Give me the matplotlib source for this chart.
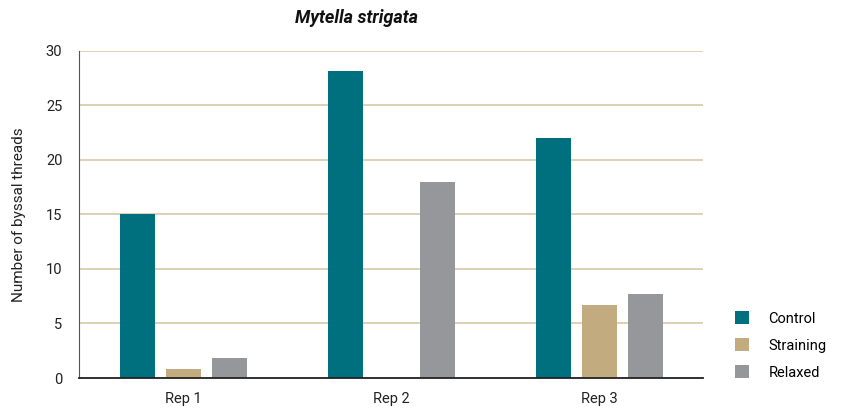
import numpy as np
import matplotlib.pyplot as plt

plt.rcParams['font.family'] = ['Roboto', 'DejaVu Sans']

reps = ['Rep 1', 'Rep 2', 'Rep 3']
control = [15.0, 28.2, 22.0]
straining = [0.8, 0.0, 6.7]
relaxed = [1.8, 18.0, 7.7]

series = [('Control', control, '#00707f'),
          ('Straining', straining, '#c2ab7e'),
          ('Relaxed', relaxed, '#96979b')]

fig = plt.figure(figsize=(8.45, 4.17), dpi=100)
ax = fig.add_axes([0.0935, 0.0935, 0.7385, 0.7845])

x = np.arange(len(reps))
w = 0.168
step = 0.221
for i, (name, vals, col) in enumerate(series):
    ax.bar(x + (i - 1) * step + 0.004, vals, width=w, color=col, label=name, zorder=3)

ax.set_xlim(-0.5, 2.5)
ax.set_ylim(0, 30)
ax.set_yticks(range(0, 31, 5))
ax.set_xticks(x)
ax.set_xticklabels(reps)
ax.yaxis.grid(True, color='#d9c8a8', linewidth=1.2, zorder=0)
for s in ['top', 'right']:
    ax.spines[s].set_visible(False)
ax.spines['left'].set_color('#555555')
ax.spines['left'].set_linewidth(0.8)
ax.spines['bottom'].set_color('#222222')
ax.spines['bottom'].set_linewidth(1.3)
ax.spines['bottom'].set_zorder(4)
ax.tick_params(axis='y', length=0, pad=12, labelsize=10.5, colors='#222222')
ax.tick_params(axis='x', length=0, pad=10, labelsize=10.5, colors='#222222')
ax.set_ylabel('Number of byssal threads', fontsize=11, color='#222222', labelpad=14)

fig.text(0.422, 0.958, 'Mytella strigata', ha='center', va='center',
         fontsize=13, fontweight='bold', fontstyle='italic', color='#111111')

ax.legend(loc='lower left', bbox_to_anchor=(1.03, -0.045), frameon=False,
          handlelength=1.0, handleheight=1.0, handletextpad=1.3,
          labelspacing=0.85, fontsize=10.5)

fig.savefig('out.png', dpi=100)
